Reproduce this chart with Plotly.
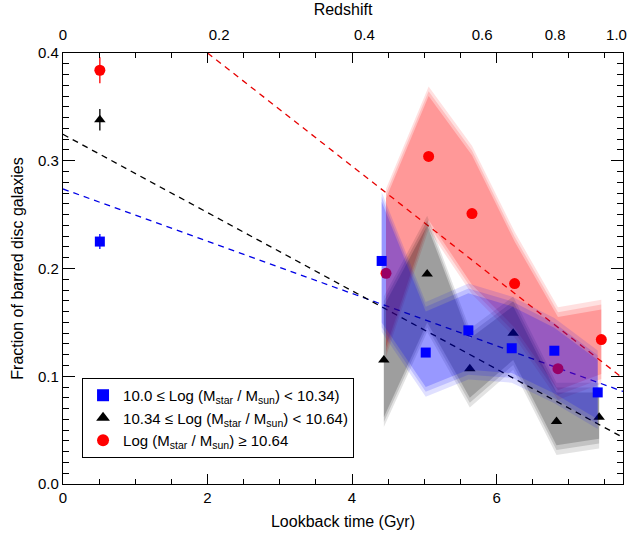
import plotly.graph_objects as go

# ---- data ----
x_low = [0.51, 4.41, 5.02, 5.61, 6.21, 6.80, 7.40]
y_low = [0.225, 0.207, 0.122, 0.1426, 0.126, 0.1237, 0.085]
e_low = [0.007, 0, 0, 0, 0, 0, 0]
band_low_x = [4.41, 5.02, 5.61, 6.21, 6.80, 7.40]
band_low_lo = [0.150, 0.090, 0.106, 0.103, 0.084, 0.060]
band_low_hi = [0.262, 0.160, 0.177, 0.165, 0.145, 0.115]

x_mid = [0.51, 4.44, 5.04, 5.63, 6.23, 6.83, 7.42]
y_mid = [0.338, 0.115, 0.195, 0.107, 0.140, 0.058, 0.062]
e_mid = [0.010, 0, 0, 0, 0, 0, 0]
band_mid_x = [4.44, 5.04, 5.63, 6.23, 6.83, 7.42]
band_mid_lo = [0.062, 0.150, 0.080, 0.115, 0.036, 0.042]
band_mid_hi = [0.165, 0.240, 0.135, 0.165, 0.085, 0.085]

x_high = [0.51, 4.47, 5.06, 5.66, 6.25, 6.85, 7.45]
y_high = [0.384, 0.1955, 0.304, 0.251, 0.186, 0.107, 0.134]
e_high = [0.012, 0, 0, 0, 0, 0, 0]
band_high_x = [4.47, 5.06, 5.66, 6.25, 6.85, 7.45]
band_high_lo = [0.127, 0.245, 0.185, 0.145, 0.087, 0.102]
band_high_hi = [0.265, 0.360, 0.305, 0.225, 0.155, 0.162]

# linear fits: (intercept, slope, x start, x end)
fit_low = (0.2738, -0.02425, 0.0, 7.75)
fit_mid = (0.3245, -0.0363, 0.0, 7.75)
fit_high = (0.505, -0.0525, 2.0, 7.75)

z_labels = ["0", "0.2", "0.4", "0.6", "0.8", "1.0"]
z_pos = [0.0, 2.16, 4.17, 5.80, 6.81, 7.66]

legend_names = [
    "10.0 \u2264 Log (M<sub>star</sub> / M<sub>sun</sub>) < 10.34)",
    "10.34 \u2264 Log (M<sub>star</sub> / M<sub>sun</sub>) < 10.64)",
    "Log (M<sub>star</sub> / M<sub>sun</sub>) \u2265 10.64",
]

FONT = "Liberation Sans, Arial, Helvetica, sans-serif"

fig = go.Figure()

def fit_line(fit, color):
    a, b, x0, x1 = fit
    fig.add_trace(go.Scatter(x=[x0, x1], y=[a + b * x0, a + b * x1], mode="lines",
                             line=dict(color=color, width=1.3, dash="6px,5px"),
                             showlegend=False, hoverinfo="skip"))

fit_line(fit_low, "rgb(0,0,230)")
fit_line(fit_mid, "black")
fit_line(fit_high, "rgb(230,0,0)")

def band(bx, lo, hi, rgb, alphas):
    # soft edges: a few slightly widened layers
    for pad, a in zip([0.009, 0.0045, 0.0], alphas):
        fig.add_trace(go.Scatter(x=bx, y=[v + pad for v in hi], mode="lines",
                                 line=dict(width=0),
                                 showlegend=False, hoverinfo="skip"))
        fig.add_trace(go.Scatter(x=bx, y=[v - pad for v in lo], mode="lines",
                                 line=dict(width=0),
                                 fill="tonexty", fillcolor=f"rgba({rgb},{a})",
                                 showlegend=False, hoverinfo="skip"))

def points(x, y, e, sym, color, size, name, rank):
    fig.add_trace(go.Scatter(x=x, y=y, mode="markers", name=name, legendrank=rank,
                             marker=dict(symbol=sym, color=color, size=size, line=dict(width=0)),
                             error_y=dict(type="data", array=e, visible=True, color=color,
                                          thickness=1.3, width=0)))

band(band_high_x, band_high_lo, band_high_hi, "255,0,0", [0.12, 0.15, 0.2])
points(x_high, y_high, e_high, "circle", "rgb(255,0,0)", 11, legend_names[2], 3)
band(band_mid_x, band_mid_lo, band_mid_hi, "0,0,0", [0.11, 0.14, 0.19])
points(x_mid, y_mid, e_mid, "triangle-up", "black", 10, legend_names[1], 2)
band(band_low_x, band_low_lo, band_low_hi, "0,0,255", [0.12, 0.15, 0.2])
points(x_low, y_low, e_low, "square", "rgb(0,0,255)", 10, legend_names[0], 1)

# invisible trace to activate top axis
fig.add_trace(go.Scatter(x=[0], y=[0], xaxis="x2", mode="markers",
                         marker=dict(opacity=0), showlegend=False, hoverinfo="skip"))

axis_common = dict(showline=True, linecolor="black", linewidth=1.3, mirror="ticks",
                   ticks="inside", tickcolor="black", showgrid=False, zeroline=False,
                   automargin=False,
                   tickfont=dict(size=15, color="black", family=FONT))

fig.update_layout(
    width=633, height=534,
    margin=dict(l=63, r=10, t=53, b=50),
    paper_bgcolor="white", plot_bgcolor="white",
    font=dict(family=FONT, color="black", size=15),
    xaxis=dict(range=[0, 7.75], tick0=0, dtick=2, ticklen=10, tickwidth=1,
               minor=dict(dtick=0.5, ticklen=5, ticks="inside", tickcolor="black"),
               title=dict(text="Lookback time (Gyr)", font=dict(size=16), standoff=10),
               **axis_common),
    yaxis=dict(range=[0, 0.4], tick0=0, dtick=0.1, tickformat=".1f", ticklen=12, tickwidth=1,
               minor=dict(dtick=0.01, ticklen=6, ticks="inside", tickcolor="black"),
               title=dict(text="Fraction of barred disc galaxies", font=dict(size=16), standoff=10),
               **axis_common),
    xaxis2=dict(overlaying="x", side="top", range=[0, 7.75], tickmode="array",
                tickvals=z_pos, ticktext=z_labels, ticks="", showline=False,
                showgrid=False, zeroline=False, automargin=False, ticklabelstandoff=9,
                tickfont=dict(size=15, color="black", family=FONT),
                title=dict(text="Redshift", font=dict(size=16), standoff=6)),
    legend=dict(x=0.034, y=0.246, xanchor="left", yanchor="top", traceorder="normal",
                bordercolor="black", borderwidth=1, bgcolor="rgba(255,255,255,0)",
                font=dict(size=15, family=FONT), itemsizing="constant",
                tracegroupgap=0),
)

fig.write_html("out.html", post_script="document.body.style.margin='0px';",
               config={"displayModeBar": False})
